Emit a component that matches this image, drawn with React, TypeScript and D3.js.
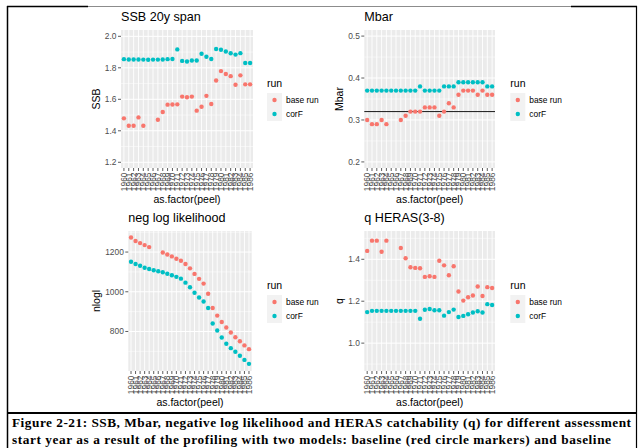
import React from "react";
import * as d3 from "d3";

const years = ["1960","1961","1962","1963","1964","1965","1966","1967","1968","1969","1970","1971","1972","1973","1974","1975","1976","1977","1978","1979","1980","1981","1982","1983","1984","1985","1986"];

const ssbBase = [1.479,1.432,1.432,1.485,1.432,null,null,1.470,1.519,1.566,1.567,1.568,1.617,1.613,1.617,1.528,1.553,1.622,1.570,1.719,1.779,1.761,1.747,1.692,1.752,1.695,1.695];
const ssbCorF = [1.855,1.853,1.853,1.853,1.852,1.851,1.852,1.852,1.853,1.855,1.856,1.917,1.844,1.840,1.846,1.846,1.889,1.870,1.856,1.919,1.915,1.904,1.892,1.884,1.893,1.831,1.831];

const mbarBase = [0.30,0.29,0.29,0.30,0.29,null,null,0.30,0.31,0.32,0.32,0.32,0.33,0.33,0.33,0.31,0.32,0.34,0.33,0.36,0.37,0.37,0.37,0.36,0.37,0.36,0.36];
const mbarCorF = [0.37,0.37,0.37,0.37,0.37,0.37,0.37,0.37,0.37,0.37,0.37,0.38,0.37,0.37,0.37,0.37,0.38,0.38,0.38,0.39,0.39,0.39,0.39,0.39,0.39,0.38,0.38];
const mbarRef = 0.32;

const nloglBase = [1273,1256,1245,1235,1225,null,null,1198,1188,1178,1166,1156,1140,1118,1090,1065,1041,990,918,880,848,820,795,771,751,730,711];
const nloglCorF = [1151,1140,1131,1121,1115,1108,1103,1098,1091,1083,1075,1066,1046,1023,995,971,951,918,840,805,770,738,716,698,678,657,637];

const qBase = [1.440,1.489,1.489,1.436,1.489,null,null,1.454,1.405,1.362,1.359,1.357,1.316,1.319,1.316,1.393,1.371,1.324,1.367,1.246,1.203,1.219,1.227,1.270,1.225,1.267,1.263];
const qCorF = [1.148,1.154,1.154,1.154,1.154,1.154,1.154,1.154,1.154,1.154,1.154,1.116,1.159,1.163,1.157,1.157,1.131,1.148,1.160,1.125,1.130,1.138,1.146,1.152,1.146,1.186,1.182];

const runNames = ["base run", "corF"];
const runColors = ["#F8766D", "#00BFC4"];

const ssbTicks = [1.2, 1.4, 1.6, 1.8, 2.0];
const mbarTicks = [0.2, 0.3, 0.4, 0.5];
const nloglTicks = [800, 1000, 1200];
const qTicks = [1.0, 1.2, 1.4];

const captionLines = [
  "Figure 2-21: SSB, Mbar, negative log likelihood and HERAS catchability (q) for different assessment",
  "start year as a result of the profiling with two models: baseline (red circle markers) and baseline",
];

type PanelProps = {
  left: number; right: number; top: number; bottom: number;
  domain: [number, number];
  ticks: number[];
  fmt: (v: number) => string;
  title: string;
  ylab: string;
  ylabX: number;
  base: (number | null)[];
  corF: (number | null)[];
  hline?: number;
  legendX: number;
};

function Panel(p: PanelProps) {
  const x = d3.scalePoint<string>().domain(years).range([p.left, p.right]).padding(0.6);
  const y = d3.scaleLinear().domain(p.domain).range([p.bottom, p.top]);
  const step = p.ticks[1] - p.ticks[0];
  const minor: number[] = [];
  const first = p.ticks[0] - step / 2;
  for (let k = -2; k < p.ticks.length + 2; k++) {
    const v = first + k * step;
    if (v >= p.domain[0] - 1e-9 && v <= p.domain[1] + 1e-9) minor.push(v);
  }
  const series = [p.base, p.corF];
  const midY = (p.top + p.bottom) / 2;
  const midX = (p.left + p.right) / 2;
  const lx = p.legendX;
  const ly = midY - 12;
  return (
    <g>
      <rect x={p.left} y={p.top} width={p.right - p.left} height={p.bottom - p.top} fill="#EBEBEB" />
      {minor.map((v, i) => (
        <line key={"mi" + i} x1={p.left} x2={p.right} y1={y(v)} y2={y(v)} stroke="#FFFFFF" strokeWidth={0.5} />
      ))}
      {p.ticks.map((v, i) => (
        <line key={"ma" + i} x1={p.left} x2={p.right} y1={y(v)} y2={y(v)} stroke="#FFFFFF" strokeWidth={1} />
      ))}
      {years.map((c) => (
        <line key={"vx" + c} x1={x(c)} x2={x(c)} y1={p.top} y2={p.bottom} stroke="#FFFFFF" strokeWidth={0.9} />
      ))}
      {p.hline !== undefined && (
        <line x1={p.left} x2={p.right} y1={y(p.hline)} y2={y(p.hline)} stroke="#000000" strokeWidth={0.9} />
      )}
      {series.map((s, si) =>
        s.map((v, i) =>
          v === null ? null : (
            <circle key={"pt" + si + "-" + i} cx={x(years[i])} cy={y(v)} r={2.2} fill={runColors[si]} />
          )
        )
      )}
      {/* y axis */}
      {p.ticks.map((v, i) => (
        <g key={"yt" + i}>
          <line x1={p.left - 3} x2={p.left} y1={y(v)} y2={y(v)} stroke="#333333" strokeWidth={0.8} />
          <text x={p.left - 4.5} y={y(v)} dy="0.35em" textAnchor="end" fontSize={8.4} fill="#4D4D4D">{p.fmt(v)}</text>
        </g>
      ))}
      {/* x axis */}
      {years.map((c) => (
        <g key={"xt" + c}>
          <line x1={x(c)} x2={x(c)} y1={p.bottom} y2={p.bottom + 3} stroke="#333333" strokeWidth={0.8} />
          <text transform={`translate(${x(c)},${p.bottom + 4.5}) rotate(-90)`} dy="0.35em" textAnchor="end" fontSize={8.4} fill="#4D4D4D">{c}</text>
        </g>
      ))}
      <text x={p.left} y={p.top - 9.5} fontSize={12.6} fill="#000000">{p.title}</text>
      <text transform={`translate(${p.ylabX},${midY}) rotate(-90)`} textAnchor="middle" fontSize={10.5} fill="#000000">{p.ylab}</text>
      <text x={midX} y={p.bottom + 34.5} textAnchor="middle" fontSize={10.5} fill="#000000">as.factor(peel)</text>
      {/* legend */}
      <text x={lx} y={ly} fontSize={10.5} fill="#000000">run</text>
      {runNames.map((n, i) => (
        <g key={"lg" + n}>
          <rect x={lx} y={ly + 6 + i * 14} width={15} height={14} fill="#F2F2F2" />
          <circle cx={lx + 7.5} cy={ly + 13 + i * 14} r={2.2} fill={runColors[i]} />
          <text x={lx + 19} y={ly + 13 + i * 14} dy="0.35em" fontSize={8.4} fill="#000000">{n}</text>
        </g>
      ))}
    </g>
  );
}

const f1 = d3.format(".1f");
const f0 = d3.format("d");

export default function App() {
  return (
    <svg width={642} height={448} style={{ position: "absolute", left: 0, top: 0, background: "#FFFFFF" }} fontFamily="'Liberation Sans', Arial, sans-serif">
      <rect x={0} y={0} width={642} height={448} fill="#FFFFFF" />
      <Panel left={121} right={253} top={30} bottom={168} domain={[1.1637, 2.0401]} ticks={ssbTicks} fmt={f1}
        title="SSB 20y span" ylab="SSB" ylabX={100} base={ssbBase} corF={ssbCorF} legendX={267} />
      <Panel left={364.3} right={495} top={30} bottom={168} domain={[0.1855, 0.5145]} ticks={mbarTicks} fmt={f1}
        title="Mbar" ylab="Mbar" ylabX={343} base={mbarBase} corF={mbarCorF} hline={mbarRef} legendX={510.3} />
      <Panel left={128.3} right={251.7} top={231} bottom={371} domain={[601, 1306]} ticks={nloglTicks} fmt={f0}
        title="neg log likelihood" ylab="nlogl" ylabX={100} base={nloglBase} corF={nloglCorF} legendX={267} />
      <Panel left={364.3} right={495} top={231} bottom={371} domain={[0.867, 1.535]} ticks={qTicks} fmt={f1}
        title="q HERAS(3-8)" ylab="q" ylabX={343} base={qBase} corF={qCorF} legendX={510.3} />
      {/* frame */}
      <line x1={7} x2={88} y1={6.5} y2={6.5} stroke="#000000" strokeWidth={1.5} />
      <line x1={88} x2={571} y1={6.5} y2={6.5} stroke="#8C8C8C" strokeWidth={1.2} />
      <line x1={571} x2={637} y1={6.5} y2={6.5} stroke="#000000" strokeWidth={1.5} />
      <line x1={7.5} x2={7.5} y1={6} y2={448} stroke="#000000" strokeWidth={1.5} />
      <line x1={636.5} x2={636.5} y1={6} y2={448} stroke="#000000" strokeWidth={1.2} />
      <line x1={7} x2={637} y1={413} y2={413} stroke="#000000" strokeWidth={2} />
      <text x={12} y={427} fontFamily="'Liberation Serif', 'Times New Roman', serif" fontWeight="bold" fontSize={13.3}
        textLength={619} lengthAdjust="spacing" fill="#000000">{captionLines[0]}</text>
      <text x={12} y={443.5} fontFamily="'Liberation Serif', 'Times New Roman', serif" fontWeight="bold" fontSize={13.3}
        textLength={599} lengthAdjust="spacing" fill="#000000">{captionLines[1]}</text>
    </svg>
  );
}
